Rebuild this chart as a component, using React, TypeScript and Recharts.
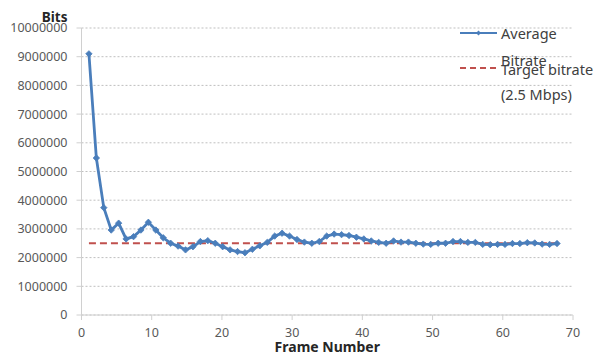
import { LineChart, Line, XAxis, YAxis, CartesianGrid, Legend } from "recharts";

// Frame index of each plotted sample, and the running average bitrate.
const FRAMES = [
  1, 2, 3, 4, 5, 6, 7, 8, 9, 10, 11, 12, 13, 14, 15, 16, 17, 18, 19, 20, 21, 22, 23, 24, 25, 26, 27, 28, 29, 30, 31, 32,
  33, 34, 35, 36, 37, 38, 39, 40, 41, 42, 43, 44, 45, 46, 47, 48, 49, 50, 51, 52, 53, 54, 55, 56, 57, 58, 59, 60, 61, 62,
  63, 64,
];
const AVG_BITS = [
  9100000, 5470000, 3740000, 2960000, 3200000, 2650000, 2730000, 2960000, 3230000, 2960000,
  2690000, 2500000, 2400000, 2270000, 2380000, 2560000, 2590000, 2500000, 2380000, 2270000,
  2210000, 2170000, 2290000, 2410000, 2530000, 2750000, 2850000, 2750000, 2630000, 2540000,
  2500000, 2560000, 2750000, 2820000, 2800000, 2770000, 2710000, 2650000, 2580000, 2530000,
  2500000, 2580000, 2540000, 2540000, 2500000, 2470000, 2460000, 2500000, 2500000, 2560000,
  2560000, 2530000, 2530000, 2460000, 2450000, 2460000, 2460000, 2490000, 2490000, 2520000,
  2510000, 2470000, 2460000, 2490000,
];
const TARGET_BITS = 2500000;

const X_TICKS = [0, 10, 20, 30, 40, 50, 60, 70];
const Y_TICKS = [0, 1000000, 2000000, 3000000, 4000000, 5000000, 6000000, 7000000, 8000000, 9000000, 10000000];

const AVG_NAME = "Average Bitrate";
const TARGET_NAME = "Target bitrate (2.5 Mbps)";
// How Excel wrapped each legend entry in the original.
const LEGEND_LINES: Record<string, string[]> = {
  [AVG_NAME]: ["Average", "Bitrate"],
  [TARGET_NAME]: ["Target bitrate", "(2.5 Mbps)"],
};

const BLUE = "#4a7ebb";
const RED = "#c0504d";
const INK = "#595959";
const FONT = "'Noto Sans', 'Open Sans', sans-serif";

const data = FRAMES.map((f, i) => ({ frame: f, avg: AVG_BITS[i], target: TARGET_BITS }));

const tick = { fill: INK, fontSize: 12.5, fontFamily: FONT };

/** Small filled diamond, the Excel marker on the average series. */
function Diamond(props: { cx?: number; cy?: number; index?: number }) {
  const { cx, cy, index } = props;
  if (cx == null || cy == null) return null;
  const r = 3.2;
  return (
    <path
      key={index}
      d={`M${cx},${cy - r}L${cx + r},${cy}L${cx},${cy + r}L${cx - r},${cy}Z`}
      fill={BLUE}
      stroke={BLUE}
      strokeWidth={0.8}
    />
  );
}

function ChartLegend(props: { payload?: { value: string; color?: string }[] }) {
  const items = props.payload ?? [];
  // Entries sit in the top-right corner, each wrapped onto two lines.
  const tops = [20, 56];
  return (
    <div style={{ position: "relative", width: 0, height: 0 }}>
      {items.map((it, i) => {
        const lines = LEGEND_LINES[it.value] ?? [it.value];
        const dashed = it.value === TARGET_NAME;
        const top = tops[i] ?? 20 + i * 36;
        return (
          <div key={it.value}>
            <svg
              width={40}
              height={10}
              style={{ position: "absolute", left: 459, top: top + (dashed ? 7 : 8) }}
            >
              <line
                x1={1}
                x2={38}
                y1={5}
                y2={5}
                stroke={dashed ? RED : BLUE}
                strokeWidth={2}
                strokeDasharray={dashed ? "6 4" : undefined}
              />
              {!dashed && <path d="M19.5,2.5L22,5L19.5,7.5L17,5Z" fill={BLUE} />}
            </svg>
            {lines.map((t, j) => (
              <div
                key={t}
                style={{
                  position: "absolute",
                  left: 501,
                  top: top + j * (dashed ? 25 : 27),
                  whiteSpace: "nowrap",
                  fontFamily: FONT,
                  fontSize: 14.5,
                  lineHeight: "26px",
                  color: "#404040",
                }}
              >
                {t}
              </div>
            ))}
          </div>
        );
      })}
    </div>
  );
}

export default function App() {
  return (
    <div style={{ position: "fixed", left: 0, top: 0, width: 611, height: 356, background: "#fff" }}>
      <LineChart width={611} height={356} data={data} margin={{ top: 28, right: 38, bottom: 0, left: 0 }}>
        <CartesianGrid xAxisId="axis" stroke="#bfbfbf" strokeDasharray="2 2" vertical={false} />
        <XAxis
          xAxisId="axis"
          dataKey="frame"
          type="number"
          domain={[0, 70]}
          ticks={X_TICKS}
          allowDataOverflow
          tick={tick}
          tickSize={5}
          tickMargin={8}
          height={41}
          axisLine={{ stroke: "#d0d0d0" }}
          tickLine={{ stroke: "#d0d0d0" }}
          label={{
            value: "Frame Number",
            position: "insideBottom",
            offset: 4,
            fill: "#262626",
            fontSize: 14,
            fontWeight: 700,
            fontFamily: FONT,
          }}
        />
        {/* The samples are spread slightly wider than the labelled frame axis in the
            original, so they ride their own hidden scale over the same plot width. */}
        <XAxis xAxisId="frame" dataKey="frame" type="number" domain={[0, 66.15]} allowDataOverflow hide />
        <YAxis
          type="number"
          domain={[0, 10000000]}
          ticks={Y_TICKS}
          interval={0}
          width={81.5}
          tick={tick}
          tickSize={5}
          tickMargin={9}
          axisLine={{ stroke: "#d0d0d0" }}
          tickLine={{ stroke: "#d0d0d0" }}
          label={(p: { viewBox?: { x?: number; y?: number; width?: number } }) => {
            const vb = p.viewBox ?? {};
            return (
              <text
                x={(vb.x ?? 0) + (vb.width ?? 0) - 14}
                y={(vb.y ?? 0) - 6}
                textAnchor="end"
                fill="#262626"
                fontSize={13.5}
                fontWeight={700}
                fontFamily={FONT}
              >
                Bits
              </text>
            );
          }}
        />
        <Legend
          content={<ChartLegend />}
          wrapperStyle={{ position: "absolute", left: 0, top: 0, width: 0, height: 0 }}
        />
        <Line
          xAxisId="frame"
          name={TARGET_NAME}
          dataKey="target"
          stroke={RED}
          strokeWidth={2}
          strokeDasharray="7 4"
          dot={false}
          activeDot={false}
          isAnimationActive={false}
        />
        <Line
          xAxisId="frame"
          name={AVG_NAME}
          dataKey="avg"
          stroke={BLUE}
          strokeWidth={2.8}
          dot={<Diamond />}
          activeDot={false}
          isAnimationActive={false}
        />
      </LineChart>
    </div>
  );
}
